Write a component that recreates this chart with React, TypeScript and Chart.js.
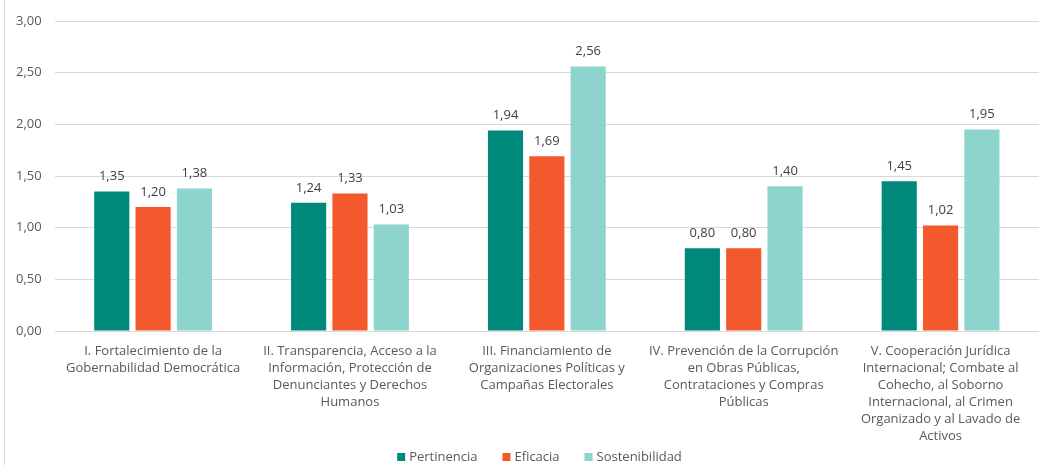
import React, { useEffect, useRef } from "react";
import { Chart, registerables } from "chart.js";

Chart.register(...registerables);

const categories: string[][] = [
  ["I. Fortalecimiento de la", "Gobernabilidad Democrática"],
  ["II. Transparencia, Acceso a la", "Información, Protección de", "Denunciantes y Derechos", "Humanos"],
  ["III. Financiamiento de", "Organizaciones Políticas y", "Campañas Electorales"],
  ["IV. Prevención de la Corrupción", "en Obras Públicas,", "Contrataciones y Compras", "Públicas"],
  ["V. Cooperación Jurídica", "Internacional; Combate al", "Cohecho, al Soborno", "Internacional, al Crimen", "Organizado y al Lavado de", "Activos"],
];

const pertinencia = [1.35, 1.24, 1.94, 0.8, 1.45];
const eficacia = [1.2, 1.33, 1.69, 0.8, 1.02];
const sostenibilidad = [1.38, 1.03, 2.56, 1.4, 1.95];

const yTicks = [0, 0.5, 1, 1.5, 2, 2.5, 3];

const fmt = (v: number) => v.toFixed(2).replace(".", ",");

const FONT = "'Open Sans', 'Noto Sans', sans-serif";

const valueLabels = {
  id: "valueLabels",
  afterDatasetsDraw(chart: any) {
    const ctx = chart.ctx;
    ctx.save();
    ctx.font = `13px ${FONT}`;
    ctx.fillStyle = "#404040";
    ctx.textAlign = "center";
    ctx.textBaseline = "middle";
    chart.data.datasets.forEach((ds: any, i: number) => {
      const meta = chart.getDatasetMeta(i);
      meta.data.forEach((bar: any, j: number) => {
        ctx.fillText(fmt(ds.data[j]), bar.x, bar.y - 15);
      });
    });
    ctx.restore();
  },
};

const bottomLegend = {
  id: "bottomLegend",
  afterDraw(chart: any) {
    const ctx = chart.ctx;
    ctx.save();
    ctx.font = `13px ${FONT}`;
    ctx.textBaseline = "middle";
    ctx.textAlign = "left";
    const box = 8;
    const boxGap = 4;
    const itemGap = 25;
    const items = chart.data.datasets.map((ds: any) => ({
      label: ds.label,
      color: ds.backgroundColor,
      w: box + boxGap + ctx.measureText(ds.label).width,
    }));
    const total = items.reduce((s: number, it: any) => s + it.w, 0) + itemGap * (items.length - 1);
    let x = chart.width / 2 + 20 - total / 2;
    const y = 457;
    items.forEach((it: any) => {
      ctx.fillStyle = it.color;
      ctx.fillRect(x, y - box / 2, box, box);
      ctx.fillStyle = "#595959";
      ctx.fillText(it.label, x + box + boxGap, y);
      x += it.w + itemGap;
    });
    ctx.restore();
  },
};

export default function App() {
  const ref = useRef<HTMLCanvasElement>(null);
  useEffect(() => {
    document.body.style.margin = "0";
    const chart = new Chart(ref.current!, {
      type: "bar",
      data: {
        labels: categories as any,
        datasets: [
          { label: "Pertinencia", data: pertinencia, backgroundColor: "#00897B" },
          { label: "Eficacia", data: eficacia, backgroundColor: "#F3592C" },
          { label: "Sostenibilidad", data: sostenibilidad, backgroundColor: "#8DD3CE" },
        ],
      },
      options: {
        animation: false,
        responsive: false,
        maintainAspectRatio: false,
        layout: { padding: { top: 21, left: 3, right: 0, bottom: 16 } },
        datasets: { bar: { categoryPercentage: 0.63, barPercentage: 0.85 } },
        scales: {
          x: {
            grid: { display: false },
            border: { display: false },
            ticks: {
              color: "#595959",
              font: { family: FONT, size: 13, lineHeight: "17px" as any },
              padding: 4,
              maxRotation: 0,
              autoSkip: false,
            },
          },
          y: {
            min: 0,
            max: 3,
            afterBuildTicks: (axis: any) => {
              axis.ticks = yTicks.map((v) => ({ value: v }));
            },
            grid: { color: "#D9D9D9", drawTicks: false },
            border: { display: false },
            ticks: {
              color: "#595959",
              font: { family: FONT, size: 13 },
              padding: 13,
              callback: (v: any) => fmt(Number(v)),
            },
          },
        },
        plugins: {
          legend: { display: false },
          tooltip: { enabled: false },
        },
      },
      plugins: [valueLabels, bottomLegend],
    });
    return () => chart.destroy();
  }, []);
  return (
    <div style={{ position: "relative", width: 1039, height: 465, background: "#fff", overflow: "hidden" }}>
      <div style={{ position: "absolute", left: 4, top: 0, width: 1, height: 465, background: "#D9D9D9" }} />
      <canvas ref={ref} width={1039} height={465} style={{ position: "absolute", left: 0, top: 0 }} />
    </div>
  );
}
